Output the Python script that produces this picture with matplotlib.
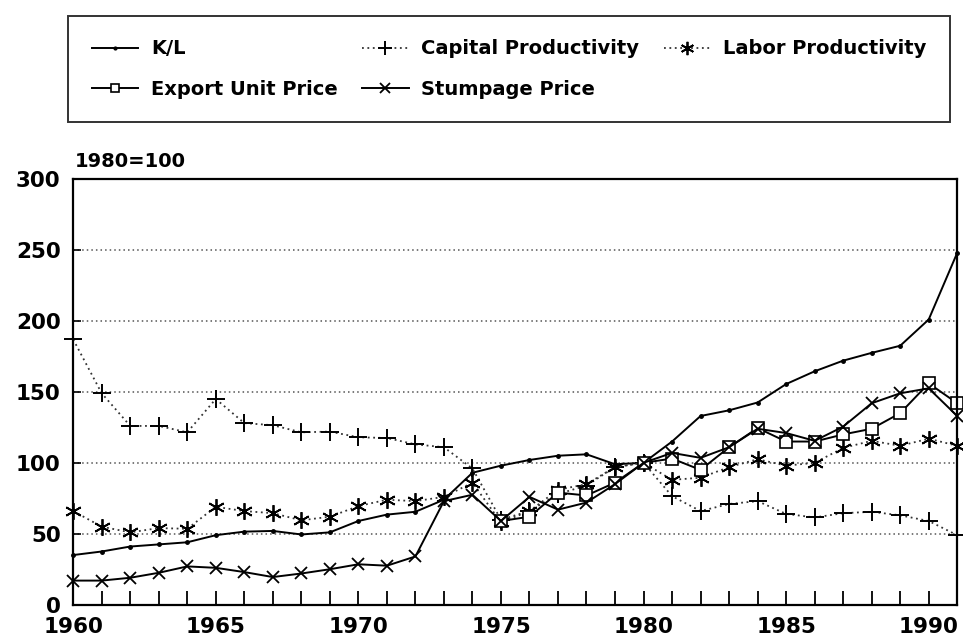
import numpy as np
import matplotlib
matplotlib.use("Agg")
import matplotlib.pyplot as plt
from matplotlib.ticker import MultipleLocator

plt.rcParams['font.family'] = ['DejaVu Sans']
plt.rcParams['font.weight'] = 'bold'

years = list(range(1960, 1992))
export_years = list(range(1975, 1992))

kl = [35, 37.5, 41, 42.5, 44, 49, 51.5, 52, 49.5, 51,
      59, 63.5, 65.5, 74, 93, 98, 102, 105, 106, 99,
      100, 115, 133, 137, 142.5, 155.5, 164.5, 172, 177.5, 182.5,
      201, 248]
capital = [187, 149, 126, 126, 121.5, 145, 128, 126.5, 121.5, 122,
           118, 117.5, 113, 111, 96, 60, 66, 78, 84, 97,
           100, 76.5, 66, 71, 73, 64, 61.5, 64.5, 65.5, 63,
           59, 49]
labor = [66, 55, 51, 54, 53.5, 69, 66, 64.5, 59.5, 62,
         69.5, 74, 73, 76, 86, 58, 66, 81, 85, 97,
         100, 88, 89.5, 97, 102.5, 98, 100, 110.5, 115.5, 112,
         117, 112]
export_price = [59, 62, 79, 77, 86, 100, 103, 95, 111, 124.5,
                115, 115, 120, 124, 135, 156, 142]
stumpage = [17, 17, 19, 22.5, 27, 26, 23, 19.5, 22, 25,
            28.5, 27.5, 34, 73, 77.5, 59, 76, 67, 72, 85,
            100, 107, 103.5, 111, 124, 121, 115.5, 125.5, 142, 149,
            152.5, 133]

fig = plt.figure(figsize=(9.63, 6.44), dpi=100)
ax = fig.add_axes([0.076, 0.061, 0.918, 0.661])

dot = (0, (1, 2))
l_kl, = ax.plot(years, kl, color='k', lw=1.4, marker='o', ms=2.5, clip_on=False)
l_cap, = ax.plot(years, capital, color='#333333', lw=1.3, ls=dot, marker='+',
                 ms=13, mew=1.4, mec='k', clip_on=False)
l_lab, = ax.plot(years, labor, color='#333333', lw=1.3, ls=dot, marker=(6, 2, 0),
                 ms=12, mew=1.3, mec='k', clip_on=False)
l_exp, = ax.plot(export_years, export_price, color='k', lw=1.4, marker='s', ms=8,
                 mfc='white', mec='k', mew=1.2, clip_on=False)
l_stu, = ax.plot(years, stumpage, color='k', lw=1.4, marker='x', ms=9, mew=1.3,
                 clip_on=False)

ax.set_xlim(1960, 1991)
ax.set_ylim(0, 300)
ax.xaxis.set_major_locator(MultipleLocator(5))
ax.xaxis.set_minor_locator(MultipleLocator(1))
ax.yaxis.set_major_locator(MultipleLocator(50))
ax.tick_params(axis='x', which='both', direction='in', length=10, width=1.3,
               pad=9, labelsize=15.5)
ax.tick_params(axis='y', direction='in', length=6, width=1.2, pad=9, labelsize=15.5)
for lab in ax.get_xticklabels() + ax.get_yticklabels():
    lab.set_fontweight('bold')

for v in range(50, 300, 50):
    ax.axhline(v, color='#555555', lw=1.1, ls=dot, zorder=0)

for s in ax.spines.values():
    s.set_linewidth(1.6)

fig.text(0.078, 0.735, '1980=100', fontsize=14, fontweight='bold', ha='left', va='bottom')

# legend: column-major order so rows read K/L, Capital, Labor / Export, Stumpage
handles = [l_kl, l_exp, l_cap, l_stu, l_lab]
labels = ['K/L', 'Export Unit Price', 'Capital Productivity', 'Stumpage Price',
          'Labor Productivity']
leg = fig.legend(handles, labels, ncol=3, loc='upper left',
                 bbox_to_anchor=(0.071, 0.975), frameon=True, fancybox=False,
                 edgecolor='k', handlelength=2.4, handletextpad=0.65,
                 columnspacing=1.25, labelspacing=1.1, borderpad=1.2,
                 borderaxespad=0, markerscale=0.8,
                 prop={'weight': 'bold', 'size': 14})
leg.get_frame().set_linewidth(1.4)

fig.savefig('out.png', dpi=100)
